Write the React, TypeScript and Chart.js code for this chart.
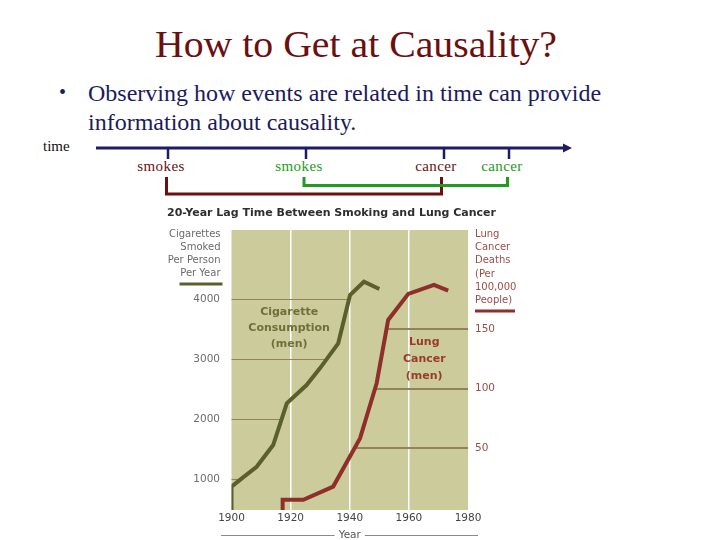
import React, { useEffect, useRef } from "react";
import { Chart, registerables } from "chart.js";

Chart.register(...registerables);

// ---- data ----
const cigYears = [1900, 1900, 1903.5, 1908.5, 1914.1, 1918.7, 1925.4, 1929.9, 1936.1, 1940.1, 1944.8, 1950];
const cigValues = [490, 877, 1017, 1210, 1572, 2267, 2572, 2850, 3267, 4072, 4293, 4172];
const cancerYears = [1917.3, 1917.3, 1924.3, 1934.4, 1943.5, 1949.1, 1953.0, 1959.8, 1968.5, 1973.3];
const cancerValues = [-2, 6.6, 6.6, 17.7, 58.4, 104.6, 157.8, 179.7, 187.2, 182.4];
const yearTicks = [1900, 1920, 1940, 1960, 1980];
const cigTicks = [1000, 2000, 3000, 4000];
const cancerTicks = [50, 100, 150];
const leftTitle = ["Cigarettes", "Smoked", "Per Person", "Per Year"];
const rightTitle = ["Lung", "Cancer", "Deaths", "(Per", "100,000", "People)"];
const cigLabel = ["Cigarette", "Consumption", "(men)"];
const cancerLabel = ["Lung", "Cancer", "(men)"];
const cigLabelAt = { year: 1919.5, value: 3793 };
const cancerLabelAt = { year: 1965.2, value: 139 };

const OLIVE = "#5b5e2d";
const RED = "#8e2f2a";
const FONT = "'DejaVu Sans', Verdana, sans-serif";

function crossing(xs: number[], ys: number[], v: number): number | null {
  for (let i = 0; i < ys.length - 1; i++) {
    const a = ys[i] - v;
    const b = ys[i + 1] - v;
    if (a * b <= 0 && ys[i] !== ys[i + 1]) {
      return xs[i] + ((v - ys[i]) / (ys[i + 1] - ys[i])) * (xs[i + 1] - xs[i]);
    }
  }
  return null;
}

const decorPlugin = {
  id: "lagDecor",
  beforeDraw(chart: any) {
    const { ctx, chartArea: a } = chart;
    ctx.save();
    ctx.fillStyle = "#cccb9b";
    ctx.fillRect(a.left, a.top, a.right - a.left, a.bottom - a.top);
    ctx.restore();
  },
  beforeDatasetsDraw(chart: any) {
    const { ctx, chartArea: a } = chart;
    const xs = chart.scales.x;
    const yl = chart.scales.yCig;
    const yr = chart.scales.yCancer;
    ctx.save();
    ctx.strokeStyle = "#94815e";
    cigTicks.forEach((v) => {
      const cx = crossing(cigYears, cigValues, v);
      if (cx == null) return;
      const py = Math.round(yl.getPixelForValue(v)) + 0.5;
      ctx.lineWidth = 1.2;
      ctx.beginPath();
      ctx.moveTo(a.left, py);
      ctx.lineTo(xs.getPixelForValue(cx), py);
      ctx.stroke();
    });
    cancerTicks.forEach((v) => {
      const cx = crossing(cancerYears, cancerValues, v);
      if (cx == null) return;
      const py = Math.round(yr.getPixelForValue(v));
      ctx.lineWidth = 1.8;
      ctx.beginPath();
      ctx.moveTo(xs.getPixelForValue(cx), py);
      ctx.lineTo(a.right, py);
      ctx.stroke();
    });
    ctx.restore();
  },
  afterDraw(chart: any) {
    const { ctx, chartArea: a } = chart;
    const xs = chart.scales.x;
    const yl = chart.scales.yCig;
    const yr = chart.scales.yCancer;
    ctx.save();
    ctx.textBaseline = "middle";
    // left axis caption
    ctx.font = `10px ${FONT}`;
    ctx.fillStyle = "#6a6a6a";
    ctx.textAlign = "right";
    leftTitle.forEach((t, i) => ctx.fillText(t, a.left - 11, a.top + 4.5 + i * 13.1));
    ctx.strokeStyle = OLIVE;
    ctx.lineWidth = 3;
    ctx.beginPath();
    ctx.moveTo(a.left - 52, a.top + 54);
    ctx.lineTo(a.left - 9, a.top + 54);
    ctx.stroke();
    // right axis caption
    ctx.fillStyle = "#9b4d4a";
    ctx.textAlign = "left";
    rightTitle.forEach((t, i) => ctx.fillText(t, a.right + 7, a.top + 4.5 + i * 13.15));
    ctx.strokeStyle = RED;
    ctx.beginPath();
    ctx.moveTo(a.right + 7, a.top + 81);
    ctx.lineTo(a.right + 47, a.top + 81);
    ctx.stroke();
    // in-plot labels
    ctx.font = `bold 11px ${FONT}`;
    ctx.textAlign = "center";
    ctx.fillStyle = "#6f6f3c";
    const cx0 = xs.getPixelForValue(cigLabelAt.year);
    const cy0 = yl.getPixelForValue(cigLabelAt.value);
    cigLabel.forEach((t, i) => ctx.fillText(t, cx0, cy0 + i * 16.4));
    ctx.fillStyle = "#9a3a2e";
    const lx0 = xs.getPixelForValue(cancerLabelAt.year);
    const ly0 = yr.getPixelForValue(cancerLabelAt.value);
    cancerLabel.forEach((t, i) => ctx.fillText(t, lx0, ly0 + i * 16.7));
    // lines flanking the "Year" axis title
    ctx.font = `10.5px ${FONT}`;
    const tw = ctx.measureText("Year").width;
    const mid = (a.left + a.right) / 2;
    const ty = Math.round(xs.bottom - 10) + 0.5;
    ctx.strokeStyle = "#8a8a8a";
    ctx.lineWidth = 1;
    ctx.beginPath();
    ctx.moveTo(a.left - 10.5, ty);
    ctx.lineTo(mid - tw / 2 - 4, ty);
    ctx.moveTo(mid + tw / 2 + 4, ty);
    ctx.lineTo(a.right + 10, ty);
    ctx.stroke();
    ctx.restore();
  },
};

function LagChart() {
  const ref = useRef<HTMLCanvasElement | null>(null);
  useEffect(() => {
    if (!ref.current) return;
    const chart = new Chart(ref.current, {
      type: "line",
      data: {
        datasets: [
          {
            label: "Cigarette Consumption (men)",
            data: cigYears.map((x, i) => ({ x, y: cigValues[i] })),
            borderColor: OLIVE,
            borderWidth: 4,
            pointRadius: 0,
            tension: 0,
            yAxisID: "yCig",
          },
          {
            label: "Lung Cancer (men)",
            data: cancerYears.map((x, i) => ({ x, y: cancerValues[i] })),
            borderColor: RED,
            borderWidth: 4,
            pointRadius: 0,
            tension: 0,
            yAxisID: "yCancer",
          },
        ],
      },
      options: {
        animation: false,
        responsive: false,
        devicePixelRatio: 1,
        layout: { padding: { left: 7, right: 0, top: 0, bottom: 0 } },
        plugins: {
          legend: { display: false },
          tooltip: { enabled: false },
          title: {
            display: true,
            align: "start",
            text: "20-Year Lag Time Between Smoking and Lung Cancer",
            color: "#2e2e2e",
            font: { family: FONT, size: 11, weight: "bold" },
            padding: { top: 6.5, bottom: 10.3 },
          },
        },
        scales: {
          x: {
            type: "linear",
            min: 1900,
            max: 1980,
            afterBuildTicks: (s: any) => {
              s.ticks = yearTicks.map((value) => ({ value }));
            },
            afterFit: (s: any) => {
              s.height = 35;
            },
            ticks: {
              color: "#444",
              padding: 2,
              font: { family: FONT, size: 10.5 },
              callback: (v: any) => String(v),
            },
            grid: {
              drawTicks: false,
              lineWidth: 1.5,
              color: (c: any) =>
                c.tick && (c.tick.value === 1900 || c.tick.value === 1980) ? "rgba(0,0,0,0)" : "#ffffff",
            },
            border: { display: false },
            title: {
              display: true,
              text: "Year",
              color: "#555",
              font: { family: FONT, size: 10.5 },
              padding: { top: 0, bottom: 3.7 },
            },
          },
          yCig: {
            type: "linear",
            position: "left",
            min: 490,
            max: 5155,
            afterBuildTicks: (s: any) => {
              s.ticks = cigTicks.map((value) => ({ value }));
            },
            afterFit: (s: any) => {
              s.width = 64.5;
            },
            ticks: {
              color: "#6d6d6d",
              padding: 11.5,
              font: { family: FONT, size: 10.5 },
              callback: (v: any) => String(v),
            },
            grid: { display: false, drawTicks: false },
            border: { display: false },
          },
          yCancer: {
            type: "linear",
            position: "right",
            min: -2,
            max: 233.4,
            afterBuildTicks: (s: any) => {
              s.ticks = cancerTicks.map((value) => ({ value }));
            },
            afterFit: (s: any) => {
              s.width = 62;
            },
            ticks: {
              color: "#9b4d4a",
              padding: 7,
              font: { family: FONT, size: 10.5 },
              callback: (v: any) => String(v),
            },
            grid: { display: false, drawTicks: false },
            border: { display: false },
          },
        },
      },
      plugins: [decorPlugin],
    } as any);
    return () => chart.destroy();
  }, []);
  return (
    <canvas
      ref={ref}
      width={370}
      height={345}
      style={{ position: "absolute", left: 160, top: 200, width: 370, height: 345 }}
    />
  );
}

export default function App() {
  const serif = "'Liberation Serif', 'Times New Roman', serif";
  const navy = "#1b1b5e";
  const dred = "#661212";
  const green = "#239a23";
  return (
    <div
      style={{
        position: "fixed",
        left: 0,
        top: 0,
        width: 720,
        height: 540,
        background: "#ffffff",
        overflow: "hidden",
      }}
    >
      <svg
        width={720}
        height={540}
        style={{ position: "absolute", left: 0, top: 0 }}
        xmlns="http://www.w3.org/2000/svg"
      >
        <text x={356} y={57} textAnchor="middle" fontFamily={serif} fontSize={38} fill="#6b0f0f" textLength={402} lengthAdjust="spacingAndGlyphs">
          How to Get at Causality?
        </text>
        <text x={59} y={99} fontFamily={serif} fontSize={20} fill={navy}>•</text>
        <text x={88} y={101} fontFamily={serif} fontSize={24} fill={navy}>
          Observing how events are related in time can provide
        </text>
        <text x={88} y={130} fontFamily={serif} fontSize={24} fill={navy}>
          information about causality.
        </text>
        <text x={43} y={151} fontFamily={serif} fontSize={15} fill="#111">time</text>
        {/* timeline */}
        <line x1={96} y1={148} x2={565} y2={148} stroke="#1c1c64" strokeWidth={3} />
        <polygon points="572,148 563,143.5 563,152.5" fill="#1c1c64" />
        {[168, 306, 444, 509].map((x) => (
          <line key={x} x1={x} y1={148} x2={x} y2={159} stroke="#1c1c64" strokeWidth={2.5} />
        ))}
        <text x={161} y={171} textAnchor="middle" fontFamily={serif} fontSize={15} letterSpacing={0.4} fill={dred}>smokes</text>
        <text x={299} y={171} textAnchor="middle" fontFamily={serif} fontSize={15} letterSpacing={0.4} fill={green}>smokes</text>
        <text x={436} y={171} textAnchor="middle" fontFamily={serif} fontSize={15} letterSpacing={0.4} fill={dred}>cancer</text>
        <text x={502} y={171} textAnchor="middle" fontFamily={serif} fontSize={15} letterSpacing={0.4} fill={green}>cancer</text>
        <polyline points="166.5,177 166.5,194 441.5,194 441.5,177" fill="none" stroke="#6b0f0f" strokeWidth={3} />
        <polyline points="304,177 304,185.5 507.5,185.5 507.5,177" fill="none" stroke={green} strokeWidth={3} />
      </svg>
      <LagChart />
    </div>
  );
}
